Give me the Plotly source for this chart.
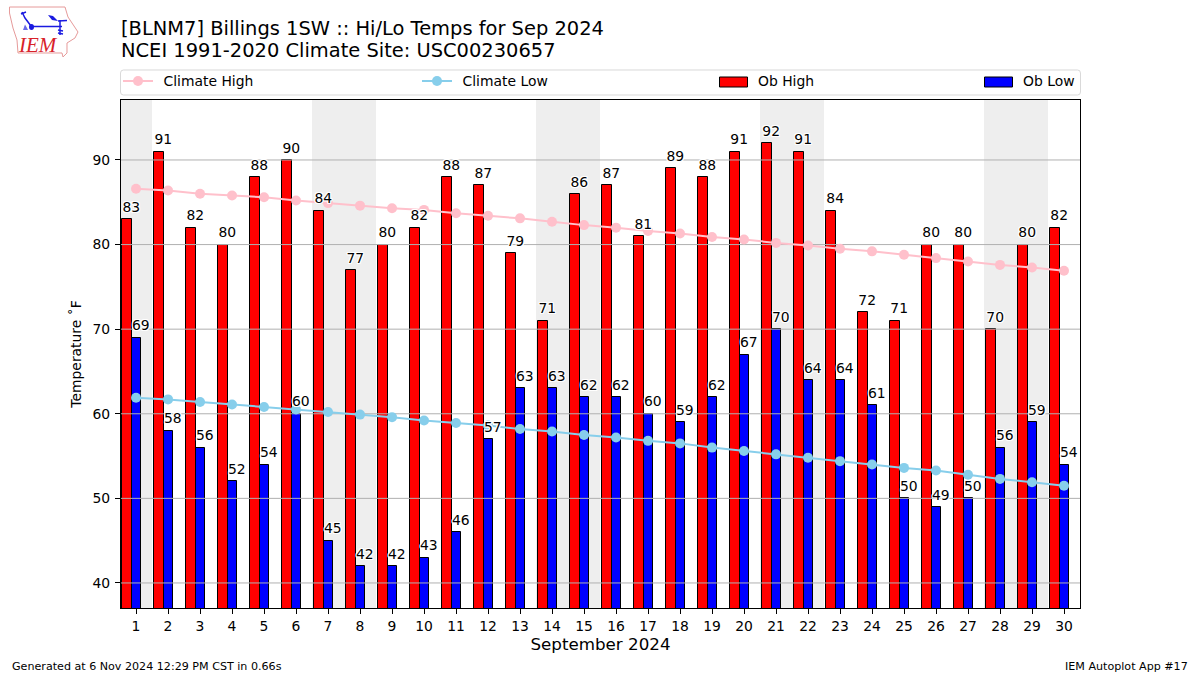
import plotly.graph_objects as go

days = list(range(1, 31))
ob_high = [83,91,82,80,88,90,84,77,80,82,88,87,79,71,86,87,81,89,88,91,92,91,84,72,71,80,80,70,80,82]
ob_low = [69,58,56,52,54,60,45,42,42,43,46,57,63,63,62,62,60,59,62,67,70,64,64,61,50,49,50,56,59,54]
climate_high = [86.6,86.4,86.0,85.8,85.6,85.2,84.9,84.6,84.3,84.1,83.7,83.4,83.1,82.7,82.3,82.0,81.6,81.3,80.9,80.6,80.2,79.9,79.5,79.2,78.8,78.4,78.0,77.6,77.3,76.9]
climate_low = [61.9,61.7,61.4,61.1,60.8,60.5,60.2,59.9,59.6,59.2,58.9,58.6,58.2,57.9,57.5,57.2,56.8,56.5,56.0,55.6,55.2,54.8,54.4,54.0,53.6,53.3,52.8,52.3,51.9,51.5]
weekend_spans = [(0.5,1.5),(6.5,8.5),(13.5,15.5),(20.5,22.5),(27.5,29.5)]
y_ticks = [40,50,60,70,80,90]
title_1 = "[BLNM7] Billings 1SW :: Hi/Lo Temps for Sep 2024"
title_2 = "NCEI 1991-2020 Climate Site: USC00230657"

FONT = "DejaVu Sans"
L, R, T, B = 121, 1080, 100, 608
XR = [0.53, 30.5]
YR = [37.04, 97.09]
HALO = "1px 0 0 white, -1px 0 0 white, 0 1px 0 white, 0 -1px 0 white, 1px 1px 0 white, -1px -1px 0 white, 1px -1px 0 white, -1px 1px 0 white"
GAP = "\u2009\u2009"

def px(x): return (x - L) / (R - L)
def py(y): return (B - y) / (B - T)
def path(points, close=False):
    s = "M" + " L".join(f"{px(x):.5f},{py(y):.5f}" for x, y in points)
    return s + (" Z" if close else "")

fig = go.Figure()
fig.add_bar(x=[d - 0.28 for d in days], y=ob_high, width=0.3, name="Ob High", showlegend=False,
            marker=dict(color="#ff0000", line=dict(color="black", width=1)))
fig.add_bar(x=[d + 0.02 for d in days], y=ob_low, width=0.3, name="Ob Low", showlegend=False,
            marker=dict(color="#0000ff", line=dict(color="black", width=1)))

gx, gy = [], []
for t in y_ticks:
    gx += [XR[0], XR[1], None]
    gy += [t, t, None]
fig.add_scatter(x=gx, y=gy, mode="lines", line=dict(color="#b0b0b0", width=1), showlegend=False, hoverinfo="skip")

fig.add_scatter(x=days, y=climate_high, mode="lines+markers", name=GAP + "Climate High", legend="legend",
                line=dict(color="#ffc0cb", width=2), marker=dict(color="#ffc0cb", size=10))
fig.add_scatter(x=days, y=climate_low, mode="lines+markers", name=GAP + "Climate Low", legend="legend2",
                line=dict(color="#87ceeb", width=2), marker=dict(color="#87ceeb", size=10))

for xs, ys in (([d - 0.15 for d in days], ob_high), ([d + 0.15 for d in days], ob_low)):
    fig.add_scatter(x=xs, y=ys, mode="markers+text", text=[str(v) for v in ys], textposition="top center",
                    marker=dict(size=4.5, opacity=0),
                    textfont=dict(family=FONT, size=13.9, color="black", shadow=HALO),
                    showlegend=False, hoverinfo="skip")

shapes = []
for a, b in weekend_spans:
    shapes.append(dict(type="rect", xref="x", yref="paper", x0=a, x1=b, y0=0, y1=1,
                       fillcolor="#eeeeee", line_width=0, layer="below"))
# legend frame
x0, x1, y0, y1, r = 120.5, 1080.5, 70, 95, 3
shapes.append(dict(type="path", xref="paper", yref="paper", layer="below",
    path=f"M{px(x0+r):.5f},{py(y0):.5f} L{px(x1-r):.5f},{py(y0):.5f} Q{px(x1):.5f},{py(y0):.5f} {px(x1):.5f},{py(y0+r):.5f} "
         f"L{px(x1):.5f},{py(y1-r):.5f} Q{px(x1):.5f},{py(y1):.5f} {px(x1-r):.5f},{py(y1):.5f} "
         f"L{px(x0+r):.5f},{py(y1):.5f} Q{px(x0):.5f},{py(y1):.5f} {px(x0):.5f},{py(y1-r):.5f} "
         f"L{px(x0):.5f},{py(y0+r):.5f} Q{px(x0):.5f},{py(y0):.5f} {px(x0+r):.5f},{py(y0):.5f} Z",
    line=dict(color="#d9d9d9", width=1), fillcolor="white"))
# legend swatches of the two bar series
for sx, col in ((719, "#ff0000"), (984, "#0000ff")):
    shapes.append(dict(type="rect", xref="paper", yref="paper", x0=px(sx + 0.5), x1=px(sx + 28.5),
                       y0=py(87), y1=py(77), fillcolor=col, line=dict(color="black", width=1)))
# logo
outline = [(9.5,7),(65,7),(68,17),(78,32),(75,38),(67,43),(67,53),(63,57),(62,53),(18,53),(17,40),(13,28),(9.5,13)]
shapes.append(dict(type="path", xref="paper", yref="paper", path=path(outline, True),
                   line=dict(color="#e69a9a", width=1), fillcolor="rgba(0,0,0,0)"))
blue = dict(color="#1a1ae0", width=1.5)
for seg in ([(22,12),(25,18),(31,26)], [(21,14),(26,12)], [(32,26.5),(62,26.5)], [(58,21),(67,20.5)], [(60,20),(60,35)], [(58,30),(63,31)], [(58,33),(63,34)]):
    shapes.append(dict(type="path", xref="paper", yref="paper", path=path(seg), line=blue))
shapes.append(dict(type="path", xref="paper", yref="paper", path=path([(48,15),(53,16),(58,21),(52,20)], True),
                   line_width=0, fillcolor="#1a1ae0"))
shapes.append(dict(type="circle", xref="paper", yref="paper", x0=px(29), x1=px(34), y0=py(30), y1=py(24),
                   fillcolor="#1a1ae0", line_width=0))
shapes.append(dict(type="path", xref="paper", yref="paper", path=path([(25,24.5),(27,28),(28,30),(23,30)], True),
                   line_width=0, fillcolor="#6a6ae8"))

def note(text, x, y, anchor, size, family=FONT, color="black"):
    return dict(text=text, xref="paper", yref="paper", x=px(x), y=py(y), xanchor=anchor, yanchor="middle",
                showarrow=False, font=dict(family=family, size=size, color=color))

annotations = [
    note("<i>IEM</i>", 37.5, 45, "center", 21, "Liberation Serif", "#d8222a"),
    note("Generated at 6 Nov 2024 12:29 PM CST in 0.66s", 9.5, 666, "left", 11.12),
    note("IEM Autoplot App #17", 1189.5, 666, "right", 11.12),
    note(title_1, 118.5, 28.5, "left", 19.46),
    note(title_2, 118.5, 51, "left", 19.46),
    note("Ob High", 755.5, 81, "left", 13.9),
    note("Ob Low", 1020.5, 81, "left", 13.9),
]

def leg(x):
    return dict(x=px(x), y=py(81.5), xanchor="left", yanchor="middle", bgcolor="rgba(0,0,0,0)",
                font=dict(family=FONT, size=13.9, color="black"), itemwidth=30, borderwidth=0)

fig.update_layout(
    width=1200, height=675, autosize=False,
    margin=dict(l=L, r=1200 - R, t=T, b=675 - B, pad=0),
    paper_bgcolor="white", plot_bgcolor="white", barmode="overlay", bargap=0,
    font=dict(family=FONT, size=13.9, color="black"),
    shapes=shapes, annotations=annotations,
    legend=leg(118), legend2=leg(417),
    xaxis=dict(range=XR, tickmode="array", tickvals=days, ticktext=[str(d) for d in days],
               ticks="outside", ticklen=5, tickwidth=1, tickcolor="black", showgrid=False, zeroline=False,
               showline=True, linecolor="black", linewidth=1, mirror=True,
               title=dict(text="September 2024", font=dict(family=FONT, size=16.7), standoff=5),
               tickfont=dict(family=FONT, size=13.9)),
    yaxis=dict(range=YR, tickmode="array", tickvals=y_ticks, ticktext=[str(t) for t in y_ticks],
               ticks="outside", ticklen=5, tickwidth=1, tickcolor="black", showgrid=False, zeroline=False,
               showline=True, linecolor="black", linewidth=1, mirror=True, ticklabelstandoff=2,
               title=dict(text="Temperature ˚F", font=dict(family=FONT, size=13.9), standoff=7),
               tickfont=dict(family=FONT, size=13.9)),
)
fig.write_html("out.html", config=dict(displayModeBar=False),
               post_script="document.body.style.margin='0';document.body.style.overflow='hidden';")
